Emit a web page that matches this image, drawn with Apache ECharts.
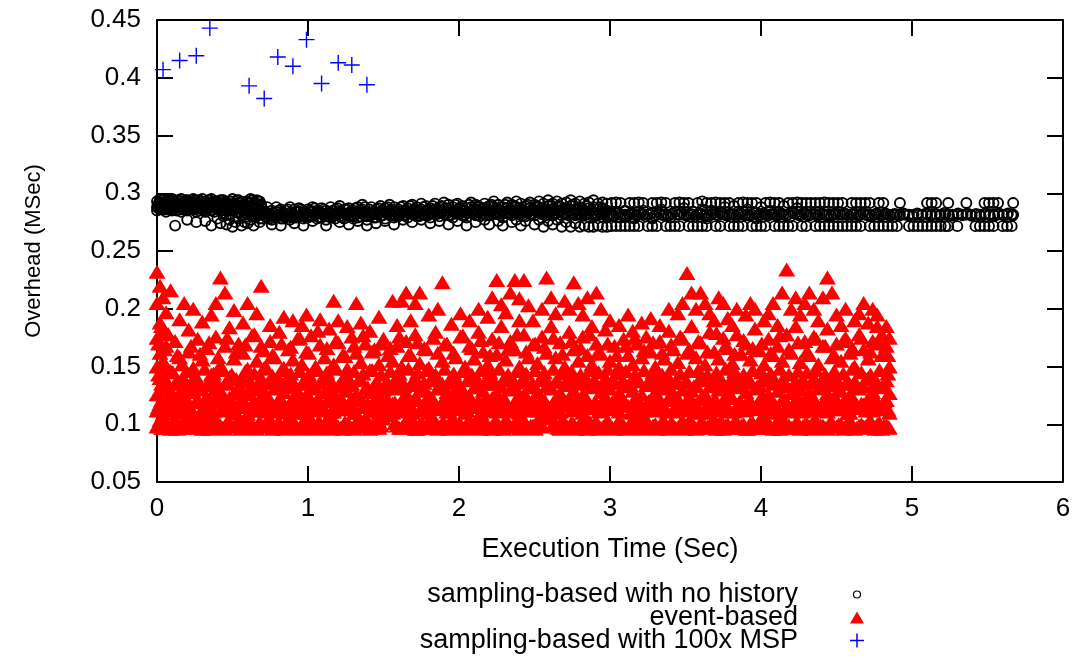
<!DOCTYPE html>
<html>
<head>
<meta charset="utf-8">
<script src="https://cdn.jsdelivr.net/npm/echarts/dist/echarts.min.js"></script>
<style>html,body{margin:0;padding:0;background:#fff}#c{width:1077px;height:664px}</style>
</head>
<body>
<div id="c"></div>
<script>
// Units in the column tables: time in 1/100 s, overhead in 1/1000 ms (µs).
// Each column: [time, overhead, overhead, ...]
const seriesNames = ['sampling-based with no history', 'event-based', 'sampling-based with 100x MSP'];
const xTicks = [0, 1, 2, 3, 4, 5, 6];
const yTicks = [0.05, 0.1, 0.15, 0.2, 0.25, 0.3, 0.35, 0.4, 0.45];

// sampling-based with 100x MSP (sec, msec)
const mspX = [0.04, 0.15, 0.26, 0.35, 0.61, 0.71, 0.80, 0.90, 0.99, 1.09, 1.20, 1.29, 1.39];
const mspY = [0.407, 0.415, 0.419, 0.443, 0.393, 0.382, 0.418, 0.410, 0.433, 0.395, 0.413, 0.411, 0.394];

// sampling-based with no history (two interleaved column tables)
const noHistCols = [
[0,293,288,285],[2,295,290,286],[4,292,287,294],[6,289,284,293],[8,294,291,286],[10,290,285,295],
[12,293,288,272],[14,291,286,294],[16,295,289,284],[18,292,287,293],[20,288,285,294,277],[22,293,290,286],
[24,295,291,287],[26,289,284,293,275],[28,294,288,285],[30,291,286,295],[32,293,289,284,276],[34,290,287,294],
[36,295,292,285,272],[38,288,284,291],[40,293,289,286,278],[42,291,285,294,274],[44,294,290,283,280],
[46,289,286,292,273],[48,293,288,282,277],[50,295,290,285,271],[52,291,287,280,275],[54,294,289,284,278],
[56,292,286,281,272],[58,290,285,279,275],[60,293,288,282,274],[62,295,289,284,277],[64,291,286,280,272],
[66,294,287,283],[68,293,285,278,275],[70,282,278,286],
[73,283,279,288],[76,281,277,285,273],[79,284,280,288],[82,282,278,286,272],[85,285,281,279],[88,283,277,288],
[91,281,279,286,274],[94,284,280,287],[97,282,278,285,272],[100,286,281,279],[103,284,280,288,276],[106,282,278,285],
[109,287,283,279],[112,285,280,277,272],[115,283,279,288],[118,286,281,278],[121,284,280,289,275],[124,282,278,286],
[127,287,283,280,273],[130,285,281,278],[133,288,284,279,276],[136,286,282,290],[139,284,280,277,272],[142,288,283,281],
[145,286,282,279,274],[148,289,284,280],[151,287,283,278,276],[154,285,281,290],[157,288,284,279,273],[160,286,282,280],
[163,289,285,281,277],[166,287,283,279],[169,290,285,282,275],[172,288,284,280],[175,286,282,291,277],[178,289,285,281],
[181,287,283,279,274],[184,291,286,282],[187,288,284,280,276],[190,286,282,292],[193,290,285,281,273],[196,288,284,279],
[199,291,286,282,276],[202,289,285,281],[205,287,283,279,272],[208,292,288,284],[211,290,286,281,275],[214,288,284,280],
[217,291,287,282,277],[220,289,285,281,273],[223,293,288,283],[226,290,286,282,276],[229,288,284,279,272],[232,292,287,283],
[235,290,285,281,275],[238,293,288,283,277],[241,291,286,282,272],[244,289,284,280,276],[247,292,287,282],[250,290,285,281,273],
[253,293,288,283,277],[256,291,286,282,271],[259,294,289,284,276],[262,291,286,281,273],[265,293,288,283,277],[268,291,285,281,271],
[271,292,287,282,275],[274,294,289,283,271],[277,291,286,281,274],[280,293,288,282,271],[283,291,285,281,272],[286,292,287,282,271],
[289,294,288,283,271],[292,291,286,281,272],[295,292,287,282,271],[298,291,285,281,271],
[301,291.5,281.5,271.5],[304,292,283,271.5],[307,291.5,281.5,279,271.5],[310,281.5,285,271.5],[313,291.5,281.5,271.5],
[316,291.5,282,278,271.5],[319,292,281.5,271.5],[322,291.5,281.5,285],[325,281.5,271.5],[328,291.5,283,278,271.5],
[331,291.5,281.5,271.5],[334,292,281.5,286],[337,291.5,281.5,271.5],[340,281.5,279,271.5],[343,291.5,284,271.5],
[346,292,281.5,271.5],[349,291.5,281.5,287],[352,291.5,281.5,271.5],[355,281.5,284,271.5],[358,291.5,281.5,271.5],
[361,293,282,286,271.5],[364,291.5,281.5,278,271.5],[367,291.5,285,281.5],[370,292,281.5,271.5],[373,291.5,283,271.5],
[376,291.5,281.5,288],[379,291.5,281.5,271.5],[382,289,281.5,271.5],[385,291.5,284,281.5,271.5],[388,292,281.5,271.5],
[391,291.5,281.5,286],[394,291.5,281.5,271.5],[397,291.5,283,278,271.5],[400,281.5,271.5,288],[403,291.5,281.5,271.5],
[406,292,281.5,285],[409,291.5,281.5,271.5],[412,291.5,284,281.5,271.5],[415,289,281.5,271.5],[418,291.5,281.5,271.5],
[421,291.5,283,271.5],[424,292,281.5,287],[427,291.5,281.5,271.5],[430,291.5,281.5,271.5],[433,291.5,281.5],
[436,291.5,281.5,271.5],[439,291.5,281.5,271.5],[442,292,281.5,271.5],[445,291.5,281.5,271.5],[448,291.5,281.5,271.5],
[451,291.5,281.5,271.5],[454,291.5,281.5,271.5],[457,281.5,271.5],[460,291.5,281.5,271.5],[463,291.5,281.5,271.5],
[466,291.5,281.5,271.5],[469,291.5,281.5],[472,291.5,281.5,271.5],[475,281.5,271.5],[478,291.5,281.5,271.5],
[481,291.5,281.5,271.5],[484,281.5,271.5],[487,281.5,271.5],[490,281.5,271.5],[492,291.5,281.5],[495,281.5],
[498,281.5,271.5],[501,281.5,271.5],[504,281.5,271.5],[507,281.5,271.5],[510,291.5,281.5,271.5],[513,291.5,281.5,271.5],
[516,291.5,281.5,271.5],[519,281.5,271.5],[522,281.5,271.5],[524,291.5,281.5,271.5],[527,281.5],[530,281.5,271.5],
[533,281.5],[536,291.5,281.5],[539,281.5],[542,281.5,271.5],[545,281.5,271.5],[548,291.5,281.5,271.5],
[551,291.5,281.5,271.5],[554,291.5,281.5,271.5],[557,291.5,281.5],[560,281.5,271.5],[563,281.5,271.5],
[566,281.5,271.5],[567,291.5,281.5]
];
const noHistColsB = [
[1,291,287],[3,294,289],[5,290,286],[7,293,288],[9,292,287],[11,294,290],[13,289,285],[15,293,288],[17,291,286],
[19,294,289],[21,290,287],[23,292,288],[25,294,286],[27,291,289],[29,293,287],[31,289,285],[33,292,288],[35,294,290],
[37,290,286],[39,293,289],[41,291,287],[43,294,288],[45,292,285],[47,290,287],[49,293,289],[51,291,286],[53,294,288],
[55,292,284],[57,290,287],[59,293,283],[61,291,286],[63,294,282],[65,292,285],[67,293,281],[69,290,284],
[71.5,280,284],[74.5,282,278],[77.5,279,283],[80.5,281,285],[83.5,278,283],[86.5,280,286],[89.5,282,279],[92.5,279,284],
[95.5,281,286],[98.5,283,279],[101.5,280,285],[104.5,282,287],[107.5,279,284],[110.5,281,286],[113.5,283,280],[116.5,280,285],
[119.5,282,287],[122.5,279,283],[125.5,281,286],[128.5,284,280],[131.5,282,287],[134.5,280,285],[137.5,283,288],[140.5,281,286],
[143.5,284,279],[146.5,282,287],[149.5,285,281],[152.5,283,288],[155.5,281,286],[158.5,284,280],[161.5,282,288],[164.5,285,281],
[167.5,283,289],[170.5,281,286],[173.5,284,280],[176.5,282,288],[179.5,285,281],[182.5,283,289],[185.5,286,282],[188.5,284,289],
[191.5,282,287],[194.5,286,281],[197.5,284,290],[200.5,282,287],[203.5,285,281],[206.5,283,290],[209.5,286,282],[212.5,284,289],
[215.5,282,287],[218.5,286,281],[221.5,284,290],[224.5,282,287],[227.5,285,281],[230.5,283,290],[233.5,286,282],[236.5,284,289],
[239.5,282,287],[242.5,285,281],[245.5,283,290],[248.5,286,282],[251.5,284,289],[254.5,282,287],[257.5,285,281],[260.5,283,290],
[263.5,286,282],[266.5,284,289],[269.5,282,287],[272.5,285,281],[275.5,283,290],[278.5,282,286],[281.5,284,281],[284.5,282,289],
[287.5,281,285],[290.5,283,281],[293.5,282,288],[296.5,281,284],[299.5,282,281],
[302.5,280.5],[305.5,282.5],[308.5,281],[311.5,280.5],[314.5,283],[317.5,281],[320.5,282.5],[323.5,280],[326.5,282],
[329.5,280.5],[332.5,283],[335.5,281],[338.5,280.5],[341.5,282.5],[344.5,281.5],[347.5,283],[350.5,280.5],[353.5,282],
[356.5,280],[359.5,282.5],[362.5,281],[365.5,280.5],[368.5,283],[371.5,281],[374.5,282.5],[377.5,280.5],[380.5,282],
[383.5,280],[386.5,282.5],[389.5,281],[392.5,280.5],[395.5,283],[398.5,281],[401.5,282.5],[404.5,280.5],[407.5,282],
[410.5,280.5],[413.5,282.5],[416.5,281],[419.5,280],[422.5,282.5],[425.5,281],[428.5,283],[431.5,280.5],[434.5,282],
[437.5,280.5],[440.5,282.5],[443.5,281],[446.5,280.5],[449.5,282.5],[452.5,281.5],[455.5,282.5],[458.5,280],[461.5,282],
[464.5,280.5],[467.5,283],[470.5,281],[473.5,280.5],[476.5,282.5],[479.5,281],[482.5,282.5],[485.5,280.5],[488.5,282],
[491.5,280.5],[494.5,282.5],[497.5,281],[500.5,280],[503.5,282.5],[506.5,281],[509.5,282.5],[512.5,280.5],[515.5,282],
[518.5,280.5],[521.5,283],[524.5,281],[527.5,280.5],[530.5,282.5],[533.5,281],[536.5,282.5],[539.5,280.5],[542.5,282],
[545.5,280],[548.5,282.5],[551.5,281],[554.5,280.5],[557.5,282.5],[560.5,281],[563.5,282.5],[566.5,280.5]
];

// event-based (two interleaved column tables)
const eventCols = [
[0,98,112,126,150,175,205,232],[2,104,118,140,162,188,220],[4,97,109,131,155,180,210],[6,101,122,138,168,197],
[9,96,114,129,146,216],[12,103,119,135,172],[15,99,111,127,158,191],[18,97,124,139,205],[21,105,116,133,163,182],
[24,98,110,128,149,200],[27,102,121,137,174],[30,96,113,130,156,189],[33,100,117,134,166],[36,97,108,125,143,195],
[39,104,120,138,176,205],[42,99,112,129,151,227],[45,96,118,135,168,214],[48,102,123,141,184],[51,98,110,127,157,199],
[54,101,115,132,170],[57,97,121,139,162,188],[60,103,109,126,148,205],[63,99,117,134,177],[66,96,112,130,155,196],
[69,100,124,140,168,220],[72,98,111,127,150],[75,104,119,136,172,186],[78,97,114,131,158],[81,101,122,139,180],
[84,96,110,128,149,193],[87,99,116,133,165],[90,103,120,137,156,190],[93,97,112,129,174],[96,100,118,135,152,186],
[99,98,110,126,163,195],[102,104,121,138,177],[105,96,115,131,150],[108,101,119,136,169,191],[111,97,112,128,158],
[114,99,123,140,183],[117,103,111,127,152,207],[120,98,116,133,171,190],[123,96,120,137,160],[126,100,113,129,148,185],
[129,97,118,135,176],[132,102,110,126,162,205],[135,98,122,139,154,188],[138,104,115,131,170],[141,96,112,128,147,181],
[144,101,119,134,165],[147,97,110,125,152,193],[150,105,117,130,174],[153,108,121,136,160],[156,110,118,133,155,207],
[159,99,114,131,168,186],[162,97,120,138,150,207],[165,102,111,127,172,214],[168,98,116,134,160,190],[171,96,123,140,178,205],
[174,100,112,129,153,214],[177,97,118,136,166],[180,103,110,125,149,195],[183,99,121,138,175],[186,96,114,131,162,200],
[189,101,119,135,155,223],[192,98,111,128,170],[195,104,124,141,187],[198,97,113,130,158],[201,100,117,133,176,196],
[204,96,110,126,150],[207,102,122,139,168,190],[210,98,115,132,157],[213,97,120,137,180,200],[216,103,112,129,163],
[219,99,118,135,152,193],[222,96,123,140,174,210],[225,101,111,127,161,225],[228,97,116,133,185,204],[231,104,120,138,156,197],
[234,98,113,130,172,214],[237,100,119,136,165,225],[240,96,110,126,150,190,209],[243,102,121,139,178,225],[246,97,115,132,158,203],
[249,99,118,135,169,190],[252,103,112,128,153],[255,98,122,140,176,200],[258,105,116,133,162,227],[261,107,114,131,185,210],
[264,99,120,137,158,196],[267,96,111,127,171],[270,101,117,134,150,207],[273,97,123,141,180,200],[276,100,113,129,165,223],
[279,98,119,136,155,205],[282,104,110,126,176,195],[285,96,121,138,160,210],[288,99,115,132,152,185],[291,102,118,135,170,214],
[294,97,112,128,161,200],[297,100,124,140,182],[300,98,114,131,155,190],[303,96,119,136,168],[306,103,111,127,150,186],
[309,99,120,137,174],[312,97,116,133,160,195],[315,101,113,129,152,181],[318,98,122,139,170],[321,96,110,126,158,188],
[324,104,117,134,176],[327,97,121,138,163,192],[330,100,112,128,150],[333,98,118,135,172,186],[336,102,115,131,157],
[339,96,123,140,181,200],[342,99,111,127,165],[345,97,119,136,154,196],[348,103,114,130,174,205],[351,98,120,137,162,231],
[354,100,112,129,185,214],[357,96,117,134,158,200],[360,101,122,140,171,214],[363,97,110,126,152,205],[366,99,116,133,180,196],
[369,104,121,138,163,190],[372,98,113,130,157,210],[375,96,119,136,175,205],[378,100,111,127,166,192],[381,97,123,141,153,186],
[384,102,115,132,178,200],[387,99,118,135,161],[390,96,112,128,170,195],[393,101,120,137,156,205],[396,98,114,131,183,200],
[399,103,117,134,164],[402,97,122,139,152,190],[405,100,110,126,174,196],[408,96,119,136,160,205],[411,99,113,129,168,186],
[414,104,121,138,155,214],[417,98,116,133,178,234],[420,97,111,127,162,200],[423,101,120,137,185,210],[426,96,114,130,154,195],
[429,100,118,135,172,205],[432,98,112,128,160,214],[435,103,122,140,176,200],[438,97,115,131,152,190],[441,99,119,136,168,210],
[444,96,111,127,183,227],[447,101,117,134,158,214],[450,98,121,139,170,195],[453,100,113,129,155,186],[456,97,118,135,175,200],
[459,103,110,126,162],[462,96,120,137,150,190],[465,99,114,131,178,196],[468,98,117,133,165,205],[471,101,122,140,157,188],
[474,97,112,128,172,200],[477,100,119,136,185,195],[480,96,115,132,160,178],[483,99,121,138,168,185],[485,97,110,127,150,175]
];
const eventColsB = [
[1,100,115,143,170],[3,97,121,135,185],[5,103,112,147,165],[7.5,98,118,132,178],[10.5,101,124,145],[13.5,96,110,138,160],
[16.5,99,117,130,152],[19.5,104,122,146],[22.5,97,113,136,168],[25.5,100,119,142],[28.5,98,109,133,161],[31.5,103,121,148],
[34.5,96,115,137,171],[37.5,101,111,144],[40.5,99,119,132,158],[43.5,97,124,147],[46.5,102,113,136,175],[49.5,98,117,143],
[52.5,100,110,139,163],[55.5,96,122,131],[58.5,103,116,146,169],[61.5,99,112,137],[64.5,97,120,144,178],[67.5,101,114,133],
[70.5,98,118,148,164],[73.5,104,123,136],[76.5,96,111,142,160],[79.5,100,117,135],[82.5,97,121,147,170],[85.5,102,113,138],
[88.5,98,119,144,167],[91.5,100,110,132],[94.5,96,124,146,175],[97.5,103,115,137],[100.5,99,118,143,162],[103.5,97,112,134],
[106.5,101,122,147,181],[109.5,98,114,139],[112.5,104,120,145,166],[115.5,96,111,133],[118.5,100,117,148,172],[121.5,97,123,136],
[124.5,102,113,142,159],[127.5,99,119,134],[130.5,96,110,146,168],[133.5,101,121,138],[136.5,98,115,144,177],[139.5,103,118,132],
[142.5,97,112,147,163],[145.5,100,124,137],[148.5,99,116,143,170],[151.5,109,120,135],[154.5,111,114,146,166],[157.5,101,119,138],
[160.5,97,112,144,176],[163.5,100,122,133],[166.5,98,117,148,160],[169.5,103,110,137],[172.5,96,121,145,171],[175.5,101,114,132],
[178.5,99,118,147,165],[181.5,97,123,139],[184.5,102,113,143,180],[187.5,98,116,135],[190.5,100,120,148,169],[193.5,96,111,136],
[196.5,103,119,144,162],[199.5,99,124,134],[202.5,97,115,146,177],[205.5,101,112,138],[208.5,98,121,143,166],[211.5,104,117,132],
[214.5,96,110,147,173],[217.5,100,122,137],[220.5,97,114,145,160],[223.5,102,119,135],[226.5,99,113,148,171],[229.5,96,123,139],
[232.5,101,116,143,165],[235.5,98,111,134],[238.5,103,120,146,178],[241.5,97,117,137],[244.5,100,124,144,163],[247.5,99,112,133],
[250.5,96,118,147,170],[253.5,102,115,138],[256.5,106,121,145,167],[259.5,108,113,135],[262.5,100,119,148,175],[265.5,97,110,137],
[268.5,103,123,144,161],[271.5,98,116,134],[274.5,101,112,146,172],[277.5,96,120,139],[280.5,99,117,143,166],[283.5,97,122,135],
[286.5,102,114,147,178],[289.5,100,118,137],[292.5,96,111,145,163],[295.5,98,121,133],[298.5,103,115,148,170],[301.5,97,119,138],
[304.5,100,113,144,160],[307.5,99,124,136],[310.5,96,117,146,168],[313.5,101,110,134],[316.5,98,122,143,175],[319.5,104,116,137],
[322.5,97,112,147,164],[325.5,100,120,135],[328.5,99,114,145,171],[331.5,96,123,139],[334.5,102,118,143,162],[337.5,98,111,134],
[340.5,101,121,148,169],[343.5,97,115,137],[346.5,100,119,144,176],[349.5,96,113,136],[352.5,103,124,146,165],[355.5,99,116,133],
[358.5,97,110,147,172],[361.5,101,122,138],[364.5,98,117,143,163],[367.5,100,112,135],[370.5,96,120,145,179],[373.5,103,114,137],
[376.5,99,118,148,168],[379.5,97,123,134],[382.5,102,111,146,161],[385.5,98,119,139],[388.5,100,115,143,173],[391.5,96,121,136],
[394.5,101,113,147,166],[397.5,99,117,133],[400.5,97,124,145,170],[403.5,103,112,138],[406.5,98,120,144,162],[409.5,100,116,135],
[412.5,96,110,148,177],[415.5,102,122,137],[418.5,99,114,143,165],[421.5,97,118,134],[424.5,101,123,146,171],[427.5,98,111,139],
[430.5,100,117,145,163],[433.5,96,121,136],[436.5,103,115,147,174],[439.5,99,112,133],[442.5,97,120,143,168],[445.5,101,116,138],
[448.5,98,124,146,160],[451.5,100,113,135],[454.5,96,119,144,172],[457.5,102,110,137],[460.5,99,122,148,166],[463.5,97,115,134],
[466.5,100,118,145,175],[469.5,98,112,139],[472.5,103,121,143,163],[475.5,96,117,136],[478.5,101,114,147,170],[481.5,99,120,134],
[484,98,113,144,160]
];

function colsToPoints(cols) {
  const pts = [];
  cols.forEach(function (c) {
    for (let i = 1; i < c.length; i++) pts.push([c[0] / 100, c[i] / 1000]);
  });
  return pts;
}
const noHistData = colsToPoints(noHistCols).concat(colsToPoints(noHistColsB));
const eventData = colsToPoints(eventCols).concat(colsToPoints(eventColsB));
const mspData = mspX.map(function (x, i) { return [x, mspY[i]]; });

function svgIcon(inner) {
  const s = "<svg xmlns='http://www.w3.org/2000/svg' width='62' height='16' viewBox='0 0 62 16'>" + inner + "</svg>";
  return 'image://data:image/svg+xml;charset=utf-8,' + encodeURIComponent(s);
}

const FONT = 'Liberation Sans';
const chart = echarts.init(document.getElementById('c'), null, { renderer: 'canvas' });

const axisCommonX = {
  type: 'value', min: xTicks[0], max: xTicks[xTicks.length - 1], interval: 1,
  splitLine: { show: false },
  axisLine: { show: true, onZero: false, lineStyle: { color: '#000', width: 2 } },
  axisTick: { show: true, inside: true, length: 16, lineStyle: { color: '#000', width: 2 } }
};
const axisCommonY = {
  type: 'value', min: yTicks[0], max: yTicks[yTicks.length - 1], interval: 0.05,
  splitLine: { show: false },
  axisLine: { show: true, onZero: false, lineStyle: { color: '#000', width: 2 } },
  axisTick: { show: true, inside: true, length: 16, lineStyle: { color: '#000', width: 2 } }
};

chart.setOption({
  animation: false,
  backgroundColor: '#fff',
  textStyle: { fontFamily: FONT },
  grid: { left: 157, right: 14, top: 20, bottom: 182 },
  legend: {
    orient: 'vertical', align: 'right', right: 212, top: 581, padding: 0,
    itemWidth: 62, itemHeight: 16, itemGap: -4, selectedMode: false,
    textStyle: { fontFamily: FONT, fontSize: 27, color: '#000', lineHeight: 23 },
    data: [
      { name: seriesNames[0], icon: svgIcon("<circle cx='54' cy='8' r='3.5' fill='none' stroke='black' stroke-width='1.2'/>") },
      { name: seriesNames[1], icon: svgIcon("<polygon points='47,14 61,14 54,2' fill='red'/>") },
      { name: seriesNames[2], icon: svgIcon("<path d='M54 1 L54 15 M47 8 L61 8' stroke='blue' stroke-width='1.5' fill='none'/>") }
    ]
  },
  xAxis: [
    Object.assign({}, axisCommonX, {
      position: 'bottom',
      name: 'Execution Time (Sec)', nameLocation: 'middle', nameGap: 54,
      nameTextStyle: { fontFamily: FONT, fontSize: 27, color: '#000' },
      axisLabel: { show: true, margin: 14, fontSize: 26, color: '#000', fontFamily: FONT }
    }),
    Object.assign({}, axisCommonX, { position: 'top', axisLabel: { show: false } })
  ],
  yAxis: [
    Object.assign({}, axisCommonY, {
      position: 'left',
      name: 'Overhead (MSec)', nameLocation: 'middle', nameGap: 112,
      nameTextStyle: { fontFamily: FONT, fontSize: 22, color: '#000' },
      axisLabel: { show: true, margin: 16, fontSize: 26, color: '#000', fontFamily: FONT }
    }),
    Object.assign({}, axisCommonY, { position: 'right', axisLabel: { show: false } })
  ],
  series: [
    {
      name: seriesNames[0], type: 'scatter', data: noHistData, xAxisIndex: 0, yAxisIndex: 0,
      symbol: 'circle', symbolSize: 10,
      itemStyle: { color: 'rgba(0,0,0,0)', borderColor: '#000', borderWidth: 1.9, opacity: 1 },
      emphasis: { disabled: true }, z: 2
    },
    {
      name: seriesNames[1], type: 'scatter', data: eventData, xAxisIndex: 0, yAxisIndex: 0,
      symbol: 'triangle', symbolSize: [17, 14],
      itemStyle: { color: '#ff0000', opacity: 1 },
      emphasis: { disabled: true }, z: 3
    },
    {
      name: seriesNames[2], type: 'scatter', data: mspData, xAxisIndex: 0, yAxisIndex: 0,
      symbol: 'path://M6,0L6,12M0,6L12,6', symbolSize: 16,
      itemStyle: { color: 'rgba(0,0,0,0)', borderColor: '#0000ff', borderWidth: 1.4, opacity: 1 },
      emphasis: { disabled: true }, z: 4
    }
  ]
});
</script>
</body>
</html>
